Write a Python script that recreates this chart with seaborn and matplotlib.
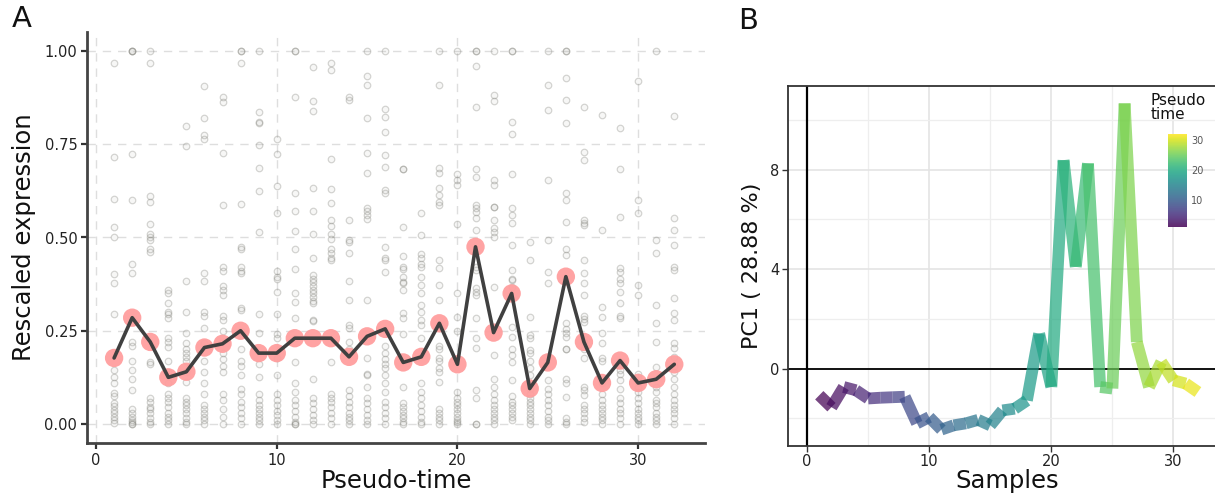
import numpy as np
import pandas as pd
import matplotlib
matplotlib.use("Agg")
import matplotlib.pyplot as plt
from matplotlib.collections import LineCollection
import matplotlib.colors as mcolors
import matplotlib.colorbar as mcolorbar
import seaborn as sns

# ---------------- data: panel A ----------------
pseudo_time = list(range(1, 33))

t01 = [0.967, 0.715, 0.602, 0.529, 0.5, 0.402, 0.377, 0.294, 0.145, 0.127, 0.11, 0.083, 0.074, 0.056, 0.047, 0.038, 0.029, 0.02, 0.011, 0.002]
t02 = [1.0, 1.0, 1.0, 0.723, 0.6, 0.43, 0.406, 0.22, 0.21, 0.17, 0.145, 0.12, 0.09, 0.04, 0.03, 0.02, 0.012, 0.005, 0.0, 0.0]
t03 = [1.0, 0.969, 0.61, 0.596, 0.535, 0.51, 0.5, 0.494, 0.47, 0.46, 0.167, 0.16, 0.07, 0.06, 0.045, 0.04, 0.03, 0.015, 0.005, 0.0]
t04 = [0.36, 0.35, 0.324, 0.3, 0.296, 0.283, 0.23, 0.22, 0.207, 0.17, 0.14, 0.11, 0.08, 0.07, 0.06, 0.045, 0.03, 0.02, 0.01, 0.0]
t05 = [0.8, 0.744, 0.383, 0.3, 0.243, 0.216, 0.2, 0.19, 0.18, 0.17, 0.14, 0.113, 0.07, 0.06, 0.05, 0.04, 0.03, 0.015, 0.005, 0.0]
t06 = [0.906, 0.82, 0.775, 0.763, 0.404, 0.383, 0.3, 0.29, 0.257, 0.216, 0.17, 0.14, 0.11, 0.08, 0.05, 0.04, 0.03, 0.02, 0.01, 0.0]
t07 = [0.877, 0.864, 0.726, 0.587, 0.42, 0.41, 0.37, 0.36, 0.346, 0.29, 0.28, 0.25, 0.19, 0.175, 0.155, 0.14, 0.08, 0.065, 0.04, 0.02, 0.0]
t08 = [1.0, 1.0, 0.967, 0.59, 0.475, 0.47, 0.42, 0.41, 0.405, 0.31, 0.305, 0.25, 0.2, 0.17, 0.155, 0.13, 0.095, 0.08, 0.06, 0.045, 0.03, 0.015, 0.0]
t09 = [1.0, 0.836, 0.81, 0.806, 0.748, 0.687, 0.625, 0.514, 0.294, 0.243, 0.16, 0.127, 0.08, 0.065, 0.05, 0.04, 0.03, 0.02, 0.01, 0.0]
t10 = [0.763, 0.723, 0.638, 0.567, 0.41, 0.395, 0.39, 0.355, 0.294, 0.24, 0.23, 0.176, 0.131, 0.08, 0.065, 0.05, 0.035, 0.025, 0.01, 0.0]
t11 = [1.0, 1.0, 0.877, 0.62, 0.57, 0.517, 0.47, 0.415, 0.35, 0.328, 0.285, 0.23, 0.167, 0.11, 0.087, 0.065, 0.05, 0.035, 0.02, 0.005, 0.0, 0.0]
t12 = [0.958, 0.867, 0.839, 0.634, 0.571, 0.509, 0.444, 0.4, 0.39, 0.38, 0.37, 0.36, 0.35, 0.34, 0.33, 0.324, 0.28, 0.275, 0.12, 0.07, 0.055, 0.04, 0.025, 0.01, 0.0]
t13 = [0.969, 0.949, 0.71, 0.63, 0.592, 0.547, 0.53, 0.51, 0.495, 0.47, 0.458, 0.444, 0.44, 0.167, 0.08, 0.07, 0.06, 0.045, 0.03, 0.015, 0.0]
t14 = [0.877, 0.87, 0.547, 0.493, 0.487, 0.458, 0.383, 0.332, 0.265, 0.257, 0.22, 0.2, 0.09, 0.075, 0.06, 0.045, 0.03, 0.02, 0.01, 0.0]
t15 = [1.0, 0.933, 0.909, 0.82, 0.727, 0.674, 0.58, 0.57, 0.56, 0.55, 0.332, 0.178, 0.135, 0.13, 0.1, 0.07, 0.055, 0.04, 0.025, 0.01, 0.0]
t16 = [1.0, 0.844, 0.824, 0.782, 0.72, 0.69, 0.627, 0.618, 0.475, 0.446, 0.44, 0.408, 0.21, 0.19, 0.175, 0.16, 0.15, 0.13, 0.11, 0.085, 0.06, 0.045, 0.03, 0.015, 0.0]
t17 = [0.685, 0.685, 0.529, 0.45, 0.42, 0.415, 0.395, 0.38, 0.377, 0.36, 0.297, 0.283, 0.24, 0.1, 0.055, 0.045, 0.035, 0.025, 0.015, 0.005, 0.0]
t18 = [0.565, 0.508, 0.455, 0.445, 0.43, 0.42, 0.395, 0.373, 0.35, 0.32, 0.3, 0.28, 0.265, 0.23, 0.11, 0.085, 0.07, 0.05, 0.035, 0.02, 0.005, 0.0]
t19 = [1.0, 0.91, 0.687, 0.672, 0.632, 0.614, 0.596, 0.587, 0.44, 0.417, 0.373, 0.332, 0.21, 0.2, 0.176, 0.168, 0.15, 0.14, 0.113, 0.04, 0.03, 0.02, 0.01, 0.0]
t20 = [1.0, 0.67, 0.655, 0.64, 0.535, 0.35, 0.288, 0.248, 0.087, 0.07, 0.06, 0.05, 0.04, 0.03, 0.02, 0.01, 0.005, 0.0]
t21 = [1.0, 1.0, 0.96, 0.85, 0.685, 0.663, 0.587, 0.578, 0.569, 0.551, 0.52, 0.42, 0.413, 0.364, 0.355, 0.346, 0.283, 0.23, 0.203, 0.09, 0.069, 0.0, 0.0]
t22 = [1.0, 0.882, 0.866, 0.654, 0.64, 0.582, 0.582, 0.547, 0.525, 0.516, 0.502, 0.368, 0.185, 0.12, 0.1, 0.08, 0.065, 0.05, 0.04, 0.03, 0.02, 0.01, 0.0]
t23 = [1.0, 1.0, 0.81, 0.777, 0.67, 0.578, 0.56, 0.538, 0.48, 0.413, 0.39, 0.386, 0.368, 0.26, 0.234, 0.2, 0.185, 0.167, 0.118, 0.075, 0.06, 0.05, 0.04, 0.03, 0.02, 0.01]
t24 = [0.489, 0.44, 0.288, 0.238, 0.23, 0.198, 0.19, 0.17, 0.15, 0.13, 0.11, 0.095, 0.08, 0.07, 0.06, 0.05, 0.04, 0.03, 0.02, 0.01, 0.0]
t25 = [1.0, 0.909, 0.842, 0.654, 0.493, 0.408, 0.377, 0.118, 0.095, 0.08, 0.065, 0.05, 0.035, 0.02, 0.01, 0.0]
t26 = [1.0, 1.0, 0.929, 0.868, 0.808, 0.618, 0.6, 0.542, 0.47, 0.453, 0.27, 0.256, 0.243, 0.234, 0.2, 0.2, 0.12, 0.11, 0.073, 0.015, 0.005, 0.0]
t27 = [0.85, 0.73, 0.708, 0.547, 0.538, 0.534, 0.44, 0.404, 0.377, 0.346, 0.29, 0.282, 0.274, 0.22, 0.2, 0.176, 0.1, 0.09, 0.078, 0.05, 0.04, 0.03, 0.015, 0.005]
t28 = [0.828, 0.52, 0.314, 0.288, 0.243, 0.216, 0.176, 0.168, 0.11, 0.08, 0.065, 0.05, 0.04, 0.03, 0.02, 0.01, 0.0]
t29 = [0.793, 0.685, 0.556, 0.417, 0.408, 0.39, 0.377, 0.355, 0.324, 0.29, 0.283, 0.17, 0.145, 0.135, 0.118, 0.095, 0.07, 0.055, 0.04, 0.03, 0.015, 0.0]
t30 = [0.92, 0.6, 0.565, 0.373, 0.346, 0.135, 0.125, 0.113, 0.1, 0.087, 0.07, 0.055, 0.04, 0.03, 0.02, 0.01, 0.0]
t31 = [1.0, 0.493, 0.458, 0.32, 0.27, 0.22, 0.154, 0.1, 0.085, 0.065, 0.055, 0.045, 0.03, 0.02, 0.01, 0.0]
t32 = [0.826, 0.551, 0.52, 0.48, 0.42, 0.413, 0.337, 0.297, 0.279, 0.216, 0.203, 0.18, 0.155, 0.14, 0.12, 0.1, 0.08, 0.065, 0.05, 0.04, 0.03, 0.015, 0.0]

mean_expr = [0.177, 0.285, 0.22, 0.125, 0.14, 0.205, 0.215, 0.25, 0.19, 0.19,
             0.23, 0.23, 0.23, 0.18, 0.235, 0.255, 0.165, 0.18, 0.27, 0.16,
             0.475, 0.245, 0.35, 0.095, 0.165, 0.395, 0.22, 0.11, 0.17, 0.11,
             0.12, 0.16]

# ---------------- data: panel B ----------------
samples = list(range(1, 33))
pc1 = [-1.07, -1.55, -0.74, -0.87, -1.2, -1.17, -1.15, -1.13, -2.2, -1.95,
       -2.45, -2.28, -2.2, -2.06, -2.28, -1.68, -1.61, -1.28, 1.41, -0.74,
       8.38, 4.09, 8.25, -0.74, -0.8, 10.66, 1.07, -0.74, 0.27, -0.47,
       -0.6, -0.94]

x_ticks_a = [0, 10, 20, 30]
y_ticks_a = [0.0, 0.25, 0.5, 0.75, 1.0]
y_ticklabels_a = ["0.00", "0.25", "0.50", "0.75", "1.00"]
x_ticks_b = [0, 10, 20, 30]
y_ticks_b = [0, 4, 8]
cbar_ticks = [10, 20, 30]

columns = [t01, t02, t03, t04, t05, t06, t07, t08, t09, t10, t11, t12, t13, t14, t15, t16,
           t17, t18, t19, t20, t21, t22, t23, t24, t25, t26, t27, t28, t29, t30, t31, t32]
scatter_df = pd.DataFrame({
    "time": np.concatenate([[t] * len(c) for t, c in zip(pseudo_time, columns)]),
    "expr": np.concatenate(columns),
})
mean_df = pd.DataFrame({"time": pseudo_time, "expr": mean_expr})

# ---------------- figure ----------------
sns.set_theme(style="white")
plt.rcParams["font.family"] = ["DejaVu Sans"]

W, H = 1215, 494
fig = plt.figure(figsize=(W / 100, H / 100), dpi=100)

def px_axes(left, top, right, bottom):
    return fig.add_axes([left / W, 1 - bottom / H, (right - left) / W, (bottom - top) / H])

# ---- Panel A ----
axA = px_axes(87, 32, 705, 443)
axA.set_xlim(-0.5, 33.7)
axA.set_ylim(-0.051, 1.051)
for v in x_ticks_a:
    axA.axvline(v, color="#dedede", lw=1.0, ls=(0, (6, 5)), zorder=0)
for v in y_ticks_a:
    axA.axhline(v, color="#dedede", lw=1.0, ls=(0, (6, 5)), zorder=0)

sns.scatterplot(data=scatter_df, x="time", y="expr", ax=axA, s=22,
                facecolor=(0.6, 0.6, 0.57, 0.08), edgecolor=(0.5, 0.5, 0.47, 0.32),
                linewidth=0.9, legend=False, zorder=2)
sns.scatterplot(data=mean_df, x="time", y="expr", ax=axA, s=175,
                color="#ff9e9e", edgecolor="none", alpha=0.95, legend=False, zorder=3)
sns.lineplot(data=mean_df, x="time", y="expr", ax=axA, color="#404040",
             lw=2.6, legend=False, zorder=4)

axA.set_xticks(x_ticks_a)
axA.set_yticks(y_ticks_a)
axA.set_yticklabels(y_ticklabels_a)
for s in ["top", "right"]:
    axA.spines[s].set_visible(False)
for s in ["left", "bottom"]:
    axA.spines[s].set_color("#444444")
    axA.spines[s].set_linewidth(2.0)
axA.tick_params(axis="both", length=4, width=1.6, color="#333333",
                labelsize=10.5, labelcolor="#222222", pad=3,
                bottom=True, left=True)
axA.set_xlabel("Pseudo-time", fontsize=17.5, labelpad=1, color="#111111")
axA.set_ylabel("Rescaled expression", fontsize=17.5, labelpad=6, color="#111111")
axA.grid(False)

# ---- Panel B ----
axB = px_axes(788, 86, 1226, 446)
axB.set_facecolor("white")
axB.set_xlim(-1.56, 34.3)
axB.set_ylim(-3.11, 11.36)
axB.set_xticks(x_ticks_b)
axB.set_yticks(y_ticks_b)
axB.set_xticks([5, 15, 25], minor=True)
axB.set_yticks([-2, 2, 6, 10], minor=True)
axB.grid(which="major", color="#e4e4e4", lw=1.2)
axB.grid(which="minor", color="#eeeeee", lw=0.9)
axB.set_axisbelow(True)
axB.axhline(0, color="black", lw=1.3, zorder=1)
axB.axvline(0, color="black", lw=1.6, zorder=1)

norm = mcolors.Normalize(vmin=1, vmax=32)
pts = np.column_stack([samples, pc1])
segs = np.stack([pts[:-1], pts[1:]], axis=1)
lc = LineCollection(segs, cmap="viridis", norm=norm, linewidths=8.5,
                    alpha=0.72, capstyle="butt", zorder=2)
lc.set_array(np.array(samples[:-1], dtype=float))
axB.add_collection(lc)

for s in ["top", "left", "bottom"]:
    axB.spines[s].set_color("#333333")
    axB.spines[s].set_linewidth(1.3)
axB.spines["right"].set_visible(False)
axB.tick_params(axis="both", which="major", length=4, width=1.0, color="#333333",
                labelsize=10.5, labelcolor="#222222", bottom=True, left=True, pad=2)
axB.tick_params(which="minor", length=0)
axB.set_xlabel("Samples", fontsize=17.5, labelpad=0, color="#111111")
axB.set_ylabel("PC1 ( 28.88 %)", fontsize=16, labelpad=6, color="#111111")

# colorbar
cax = px_axes(1168, 134, 1187, 227)
cb = mcolorbar.ColorbarBase(cax, cmap=plt.get_cmap("viridis"), norm=norm, alpha=0.85)
cb.outline.set_visible(False)
cb.set_ticks(cbar_ticks)
cax.yaxis.set_ticks_position("both")
cax.tick_params(axis="y", direction="in", length=3, width=1, color="white",
                labelsize=7, labelcolor="#555555", pad=3, labelright=True, labelleft=False)
fig.text(1151 / W, 1 - 93 / H, "Pseudo\ntime", fontsize=11, va="top", ha="left",
         linespacing=0.95, color="#111111")

# panel labels
fig.text(12 / W, 1 - 5 / H, "A", fontsize=21, va="top", ha="left", color="#111111")
fig.text(738 / W, 1 - 7 / H, "B", fontsize=21, va="top", ha="left", color="#111111")

fig.savefig("out.png", dpi=100)
